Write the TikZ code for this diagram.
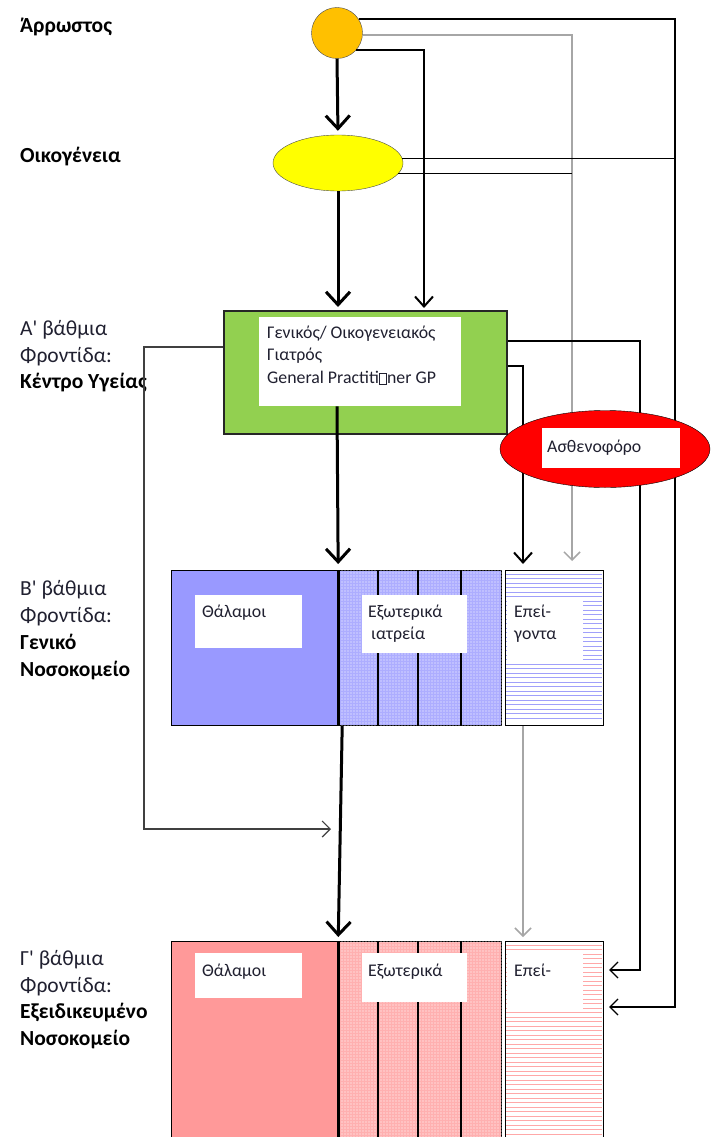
\documentclass[tikz,border=0pt]{standalone}
\usepackage{fontspec}
\setmainfont{Carlito}
\newfontfamily\apfont{Carlito}
\usetikzlibrary{arrows.meta,shapes.geometric,patterns,patterns.meta,calc}
\definecolor{orangeP}{HTML}{FFC000}
\definecolor{yellowF}{HTML}{FFFF00}
\definecolor{gpgreen}{HTML}{92D050}
\definecolor{wardblue}{HTML}{9999FF}
\definecolor{opblue}{HTML}{ADADFF}
\definecolor{eblue}{HTML}{A0A0FA}
\definecolor{wardpink}{HTML}{FF9999}
\definecolor{oppink}{HTML}{FFB0B0}
\definecolor{epink}{HTML}{FFA8A8}
\definecolor{linegray}{HTML}{A6A6A6}
\definecolor{txtcol}{HTML}{202030}
\newcommand{\tofubox}{\raisebox{-0.5pt}{\fboxsep=0pt\fboxrule=0.6pt\fbox{\rule{0pt}{10pt}\hspace{7pt}}}}
\newcommand{\ap}{{\apfont'}}
\begin{document}
\begin{tikzpicture}[x=1pt,y=-1pt,
  lbl/.style={anchor=base west, inner sep=0, text=txtcol, font=\fontsize{21.5}{24}\selectfont},
  lblb/.style={anchor=base west, inner sep=0, text=black, font=\fontsize{21.5}{24}\selectfont\bfseries},
  txt/.style={anchor=base west, inner sep=0, text=txtcol, font=\fontsize{17.8}{20}\selectfont},
  whitebox/.style={fill=white, draw=none, inner sep=0, anchor=north west},
  sect/.style={draw=black, line width=1.2pt, inner sep=0, anchor=north west},
  hatchline/.style={line width=1pt},
  thickarrow/.style={line width=3pt, -{Straight Barb[length=13pt,width=24pt]}},
  medarrow/.style={line width=2pt, -{Straight Barb[length=10pt,width=18pt]}},
  thinarrow/.style={line width=1.2pt, -{Straight Barb[length=8pt,width=16pt]}},
  grayarrow/.style={line width=1.5pt, draw=linegray, -{Straight Barb[length=8pt,width=16pt]}},
  plainline/.style={line width=1.2pt}
]
\fill[white] (0,0) rectangle (711,1137);
\useasboundingbox (0,0) rectangle (711,1137);

% ---- left labels
\node[lblb] (l1) at (20,33) {Άρρωστος};
\node[lblb] (l2) at (20,162) {Οικογένεια};
\node[lbl] (l3) at (20,335) {Α\ap\ βάθμια};
\node[lbl] (l4) at (20,362) {Φροντίδα:};
\node[lblb] (l5) at (20,388) {Κέντρο Υγείας};
\node[lbl] (l6) at (20,595) {Β\ap\ βάθμια};
\node[lbl] (l7) at (20,622) {Φροντίδα:};
\node[lblb] (l8) at (20,649) {Γενικό};
\node[lblb] (l9) at (20,676) {Νοσοκομείο};
\node[lbl] (l10) at (20,965) {Γ\ap\ βάθμια};
\node[lbl] (l11) at (20,992) {Φροντίδα:};
\node[lblb] (l12) at (20,1018) {Εξειδικευμένο};
\node[lblb] (l13) at (20,1045) {Νοσοκομείο};

% ---- main nodes
\node[ellipse, draw=black!70, fill=orangeP, minimum width=51pt, minimum height=51pt, inner sep=0] (p) at (337,33) {};
\node[ellipse, draw=black!70, fill=yellowF, minimum width=130pt, minimum height=56pt, inner sep=0] (f) at (338,163) {};
\node[draw=black!85, line width=2pt, fill=gpgreen, minimum width=283pt, minimum height=123pt, inner sep=0, anchor=north west] (gp) at (223,310) {};
\node[whitebox, minimum width=202pt, minimum height=89pt] (gpt) at (259,317) {};

% ---- hospital B
\node[sect, fill=wardblue, minimum width=166pt, minimum height=155pt] (bw) at (171,570) {};
\node[sect, fill=opblue, minimum width=164pt, minimum height=155pt] (bo) at (337,570) {};
\node[sect, fill=white, minimum width=98pt, minimum height=155pt] (be) at (505,570) {};
\fill[pattern={Dots[distance=3pt,radius=0.7pt]}, pattern color=white]
  ([shift={(0.7,0.7)}]bo.north west) rectangle ([shift={(-0.7,-0.7)}]bo.south east);
\foreach \yy in {574,578.5,...,722} \draw[hatchline, eblue] (506,\yy) -- (602.4,\yy);
\foreach \xx in {378,418,461} \draw[line width=1.5pt] (\xx,0 |- bo.north) -- (\xx,0 |- bo.south);
\draw[line width=3pt] (bw.north east) -- (bw.south east);

% ---- hospital C
\node[sect, fill=wardpink, minimum width=166pt, minimum height=200pt] (cw) at (171,941) {};
\node[sect, fill=oppink, minimum width=164pt, minimum height=200pt] (co) at (337,941) {};
\node[sect, fill=white, minimum width=98pt, minimum height=200pt] (ce) at (505,941) {};
\fill[pattern={Dots[distance=3pt,radius=0.7pt]}, pattern color=white]
  ([shift={(0.7,0.7)}]co.north west) rectangle ([shift={(-0.7,-0.7)}]co.south east);
\foreach \yy in {945,949.5,...,1137} \draw[hatchline, epink] (506,\yy) -- (602.4,\yy);
\foreach \xx in {378,418,461} \draw[line width=1.5pt] (\xx,0 |- co.north) -- (\xx,0 |- co.south);
\draw[line width=3pt] (cw.north east) -- (cw.south east);

% ---- white text boxes
\node[whitebox, minimum width=107pt, minimum height=53pt] (bwt) at (195,595) {};
\node[whitebox, minimum width=105pt, minimum height=58pt] (bot) at (362,595) {};
\node[whitebox, minimum width=76pt, minimum height=65pt] (bet) at (507,597) {};
\node[whitebox, minimum width=107pt, minimum height=45pt] (cwt) at (195,953) {};
\node[whitebox, minimum width=105pt, minimum height=49pt] (cot) at (362,953) {};
\node[whitebox, minimum width=76pt, minimum height=57pt] (cet) at (507,952) {};

% ---- connectors
\draw[thickarrow, shorten >=4pt] (p.south) -- (f.north);
\draw[thickarrow, shorten >=3pt] (f.south) -- (f.south |- gp.north);
\draw[medarrow, shorten >=2pt] (p.-42) -- (p.-42 -| 424,0) -- (424,0 |- gp.north);
\draw[thinarrow, shorten >=5pt] (p.33) -- (p.33 -| 675,0) -- (675,1007) -- (ce.east |- 0,1007);
\draw[grayarrow, shorten >=9pt] (p.-4) -- (p.-4 -| 572,0) -- (572,0 |- be.north);
\draw[plainline] (f.4) -- (f.4 -| 675,0);
\draw[plainline] (f.-10) -- (f.-10 -| 572,0);
\coordinate (fe) at (331,829);
\draw[thinarrow, draw=black!75] (gp.west |- 0,347) -- (144,347) -- (144,829) -- (fe);
\draw[thinarrow, shorten >=5pt] (gp.east |- 0,341) -- (640,341) -- (640,970) -- (ce.east |- 0,970);
\draw[medarrow, shorten >=6pt] (gp.east |- 0,366) -- (523,366) -- (523,0 |- be.north);
\draw[thickarrow, shorten >=6pt] (337,0 |- gpt.south) -- (bw.north east);
\draw[thickarrow, shorten >=4pt] ([xshift=4pt]bw.south east) -- (cw.north east);
\draw[grayarrow, shorten >=4pt] (523,0 |- be.south) -- (523,0 |- ce.north);

% ---- ambulance
\node[ellipse, draw=black, fill=red, minimum width=210pt, minimum height=77pt, inner sep=0] (amb) at (605,449) {};
\node[whitebox, minimum width=138pt, minimum height=40pt] (ambt) at (542,428) {};

% ---- texts
\node[txt] (g1) at (267,338) {Γενικός/ Οικογενειακός};
\node[txt] (g2) at (267,360) {Γιατρός};
\node[txt] (g3) at (267,383) {General Practiti\tofubox ner GP};
\node[txt] (a1) at (547,452) {Ασθενοφόρο};
\node[txt] (b1) at (202,617) {Θάλαμοι};
\node[txt] (b2) at (368,617) {Εξωτερικά};
\node[txt] (b3) at (371,639) {ιατρεία};
\node[txt] (b4) at (514,617) {Επεί-};
\node[txt] (b5) at (514,639) {γοντα};
\node[txt] (c1) at (202,976) {Θάλαμοι};
\node[txt] (c2) at (368,976) {Εξωτερικά};
\node[txt] (c3) at (514,976) {Επεί-};
\end{tikzpicture}
\end{document}
